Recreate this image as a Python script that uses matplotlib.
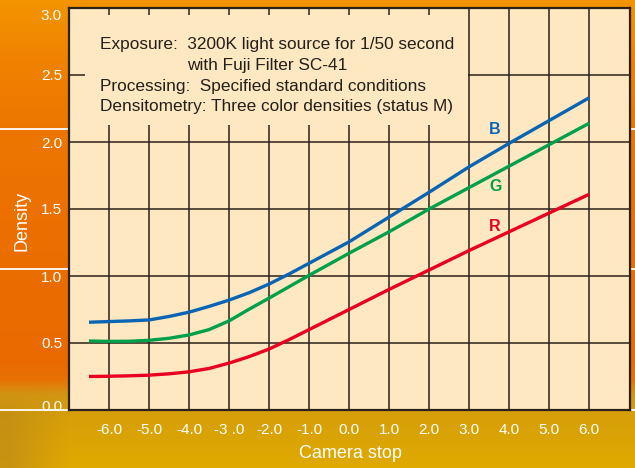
import numpy as np
import matplotlib
matplotlib.use("Agg")
import matplotlib.pyplot as plt
import matplotlib.transforms as mtransforms
from matplotlib.patches import Rectangle

plt.rcParams['font.family'] = ['Liberation Sans', 'DejaVu Sans']

# ---- data ----
stops = [-6.5, -6, -5.5, -5, -4.5, -4, -3.5, -3, -2.5, -2, -1.5, -1, 0, 1, 2, 3, 4, 5, 6]
density_B = [0.655, 0.660, 0.665, 0.672, 0.698, 0.730, 0.773, 0.820, 0.875, 0.940, 1.015, 1.095, 1.255, 1.440, 1.625, 1.815, 1.990, 2.160, 2.330]
density_G = [0.515, 0.512, 0.513, 0.520, 0.535, 0.560, 0.600, 0.665, 0.752, 0.835, 0.920, 1.005, 1.170, 1.330, 1.500, 1.660, 1.820, 1.980, 2.140]
density_R = [0.250, 0.252, 0.255, 0.260, 0.270, 0.285, 0.310, 0.350, 0.398, 0.455, 0.525, 0.600, 0.750, 0.900, 1.045, 1.190, 1.330, 1.470, 1.610]
series_names = ["B", "G", "R"]
series_colors = ["#0a64b4", "#00a04a", "#e8001e"]
xtick_vals = [-6, -5, -4, -3, -2, -1, 0, 1, 2, 3, 4, 5, 6]
xtick_labels = ["-6.0", "-5.0", "-4.0", "-3 .0", "-2.0", "-1.0", "0.0", "1.0", "2.0", "3.0", "4.0", "5.0", "6.0"]
ytick_vals = [0.0, 0.5, 1.0, 1.5, 2.0, 2.5, 3.0]
ytick_labels = ["0.0", "0.5", "1.0", "1.5", "2.0", "2.5", "3.0"]
note_lines = [
    "Exposure:  3200K light source for 1/50 second",
    "with Fuji Filter SC-41",
    "Processing:  Specified standard conditions",
    "Densitometry: Three color densities (status M)",
]

W, H = 635, 468
fig = plt.figure(figsize=(W / 100, H / 100), dpi=100)

def fx(px):
    return px / W

def fy(py):
    return 1 - py / H

# ---- background gradient ----
ys = np.arange(H)
keys_y = [0, 60, 130, 250, 360, 378, 394, 410, 468]
keys_c = [(243, 148, 0), (240, 130, 0), (237, 118, 0), (235, 110, 0), (234, 106, 0),
          (232, 112, 4), (212, 148, 18), (214, 158, 10), (224, 170, 0)]
keys_c = np.array(keys_c, dtype=float)
col = np.stack([np.interp(ys, keys_y, keys_c[:, i]) for i in range(3)], axis=1)
img = np.repeat(col[:, None, :], W, axis=1)
xs = np.arange(W)
yy, xx = np.meshgrid(ys, xs, indexing='ij')
wgt = 0.75 * np.clip((yy - 388) / 25, 0, 1) * np.clip((70 - xx) / 60, 0, 1)
dark = np.array([192, 140, 22], dtype=float)
img = img * (1 - wgt[..., None]) + dark * wgt[..., None]
img = np.clip(img / 255.0, 0, 1)

bg = fig.add_axes([0, 0, 1, 1], zorder=0)
bg.imshow(img, aspect='auto', extent=[0, W, H, 0])
bg.set_xlim(0, W)
bg.set_ylim(H, 0)
bg.axis('off')
for py in (129, 269, 410):
    bg.plot([0, W], [py, py], color='white', lw=1.3, solid_capstyle='butt')

# ---- main axes ----
ax_l, ax_r, ax_t, ax_b = 69, 630, 8, 410
ax = fig.add_axes([fx(ax_l), fy(ax_b), (ax_r - ax_l) / W, (ax_b - ax_t) / H], zorder=2)
ax.set_facecolor('#fde8c1')
ax.set_xlim(-7, 7.02)
ax.set_ylim(0, 3)

gridc = '#2b2118'
ax.set_xticks(xtick_vals)
ax.set_xticklabels(xtick_labels)
ax.set_yticks(ytick_vals)
ax.set_yticklabels(ytick_labels)
ax.tick_params(axis='both', length=0, colors='white', labelsize=11)
ax.tick_params(axis='x', pad=9)
ax.tick_params(axis='y', pad=5)
ylabels = ax.get_yticklabels()
ylabels[-1].set_transform(ylabels[-1].get_transform() + mtransforms.ScaledTranslation(0, -5 / 72, fig.dpi_scale_trans))
ylabels[0].set_transform(ylabels[0].get_transform() + mtransforms.ScaledTranslation(0, 3.5 / 72, fig.dpi_scale_trans))
ax.grid(True, color=gridc, lw=1.1, zorder=1)
for s in ax.spines.values():
    s.set_color(gridc)
    s.set_linewidth(1.6)
    s.set_zorder(6)

# text box over the grid
ax.add_patch(Rectangle((-6.6, 2.127), 9.575, 0.821, facecolor='#fde8c1', edgecolor='none', zorder=2))

for xs_, ys_, c in zip([stops] * 3, [density_B, density_G, density_R], series_colors):
    ax.plot(xs_, ys_, color=c, lw=2.4, zorder=4, solid_capstyle='butt')

label_y = [2.09, 1.67, 1.37]
for name, c, ly in zip(series_names, series_colors, label_y):
    ax.text(3.65, ly, name, color=c, fontsize=11.5, fontweight='bold', ha='center', va='center', zorder=5)

# notes
note_pos = [(100, 49.5), (187, 70), (100, 90.5), (100, 110.5)]
for t, (px, py) in zip(note_lines, note_pos):
    fig.text(fx(px), fy(py), t, fontsize=12.4, color='#231f1a', ha='left', va='baseline', zorder=5)

fig.text(fx(22), fy(221), "Density", rotation=90, color='white', fontsize=13, ha='center', va='center', zorder=5)
fig.text(fx(350), fy(453), "Camera stop", color='white', fontsize=13, ha='center', va='center', zorder=5)

fig.savefig("out.png", dpi=100)
